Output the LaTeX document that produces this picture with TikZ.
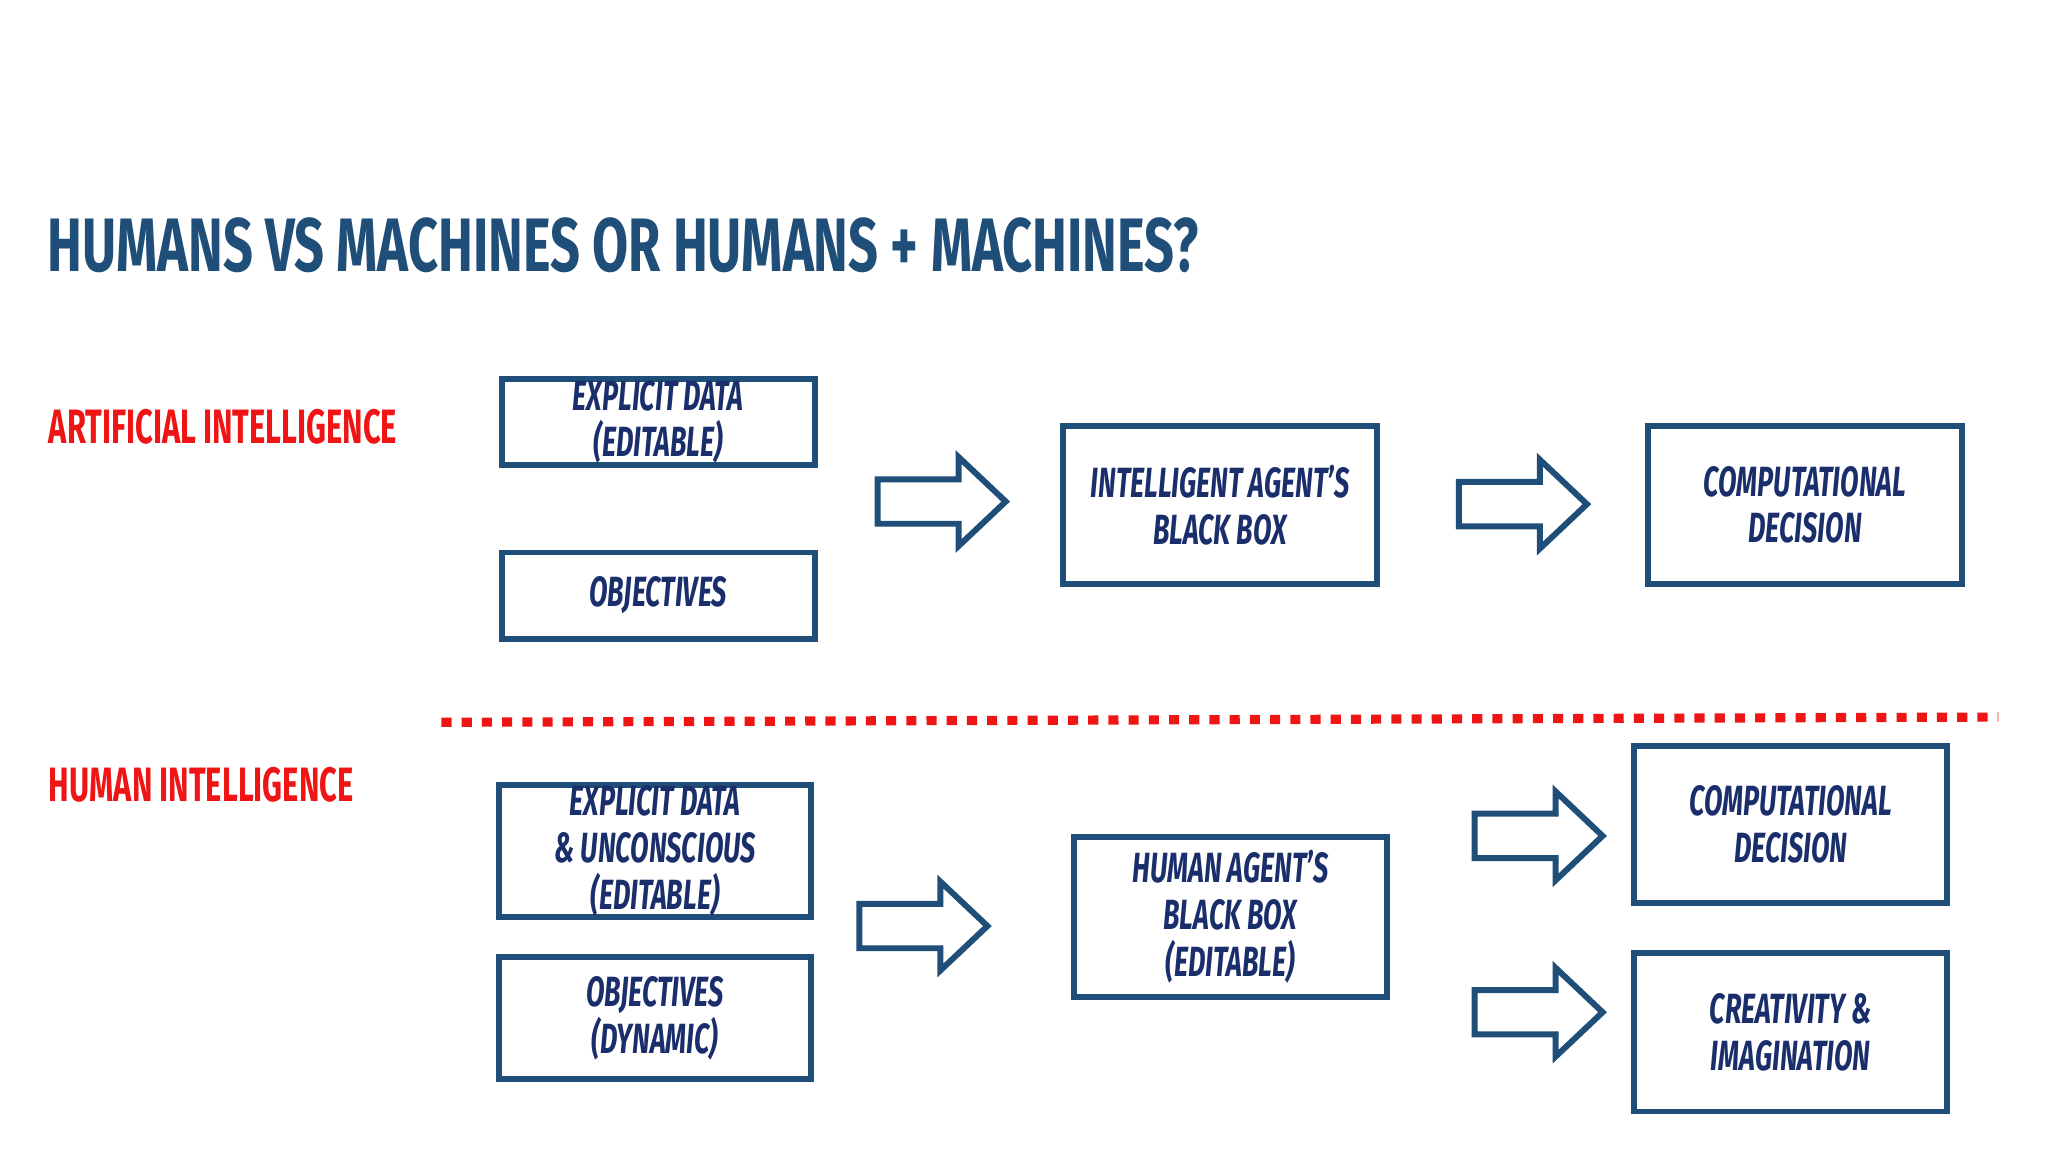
\documentclass[tikz,border=0pt]{standalone}
\usepackage{fontspec}
\setmainfont{Fira Sans}[FakeStretch=0.64,UprightFont=* Bold,ItalicFont=* Bold Italic]
\newfontfamily\ttlfont{Fira Sans Bold}[FakeStretch=0.69]
\definecolor{ttl}{HTML}{1F4E79}
\definecolor{txt}{HTML}{1A2E6B}
\definecolor{red1}{HTML}{F01515}
\begin{document}
\begin{tikzpicture}[x=0.01cm,y=-0.01cm,
  box/.style={draw=ttl,line width=1.3pt,align=center,text=txt,font=\fontsize{9.2}{10.2}\selectfont\itshape},
  lbl/.style={anchor=west,text=red1,font=\fontsize{10.5}{13}\selectfont},
  arr/.style={draw=ttl,line width=1.3pt,fill=white}]
\useasboundingbox (0,0) rectangle (1568,882);
\fill[white] (0,0) rectangle (1568,882);
\node[anchor=west,text=ttl,font=\ttlfont\fontsize{16.5}{20}\selectfont] (title) at (24,188) {HUMANS VS MACHINES OR HUMANS + MACHINES?};
\node[lbl] (ai) at (25,327) {ARTIFICIAL INTELLIGENCE};
\node[lbl] (hi) at (25,601) {HUMAN INTELLIGENCE};
\newcommand\bx[6]{\node[box,minimum width={(#4-#2-4)*0.01cm},minimum height={(#5-#3-4)*0.01cm},inner sep=0pt] (#1) at ({(#2+#4)/2},{(#3+#5)/2}) {#6};}
\newcommand\barrow[3]{\draw[arr] (#1,#3-17) -- (#2-36,#3-17) -- (#2-36,#3-34) -- (#2,#3) -- (#2-36,#3+34) -- (#2-36,#3+17) -- (#1,#3+17) -- cycle;}
\bx{ed1}{382}{288}{626}{358}{EXPLICIT DATA\\(EDITABLE)}
\bx{ob1}{382}{421}{626}{491}{OBJECTIVES}
\bx{ia}{812}{324}{1056}{449}{INTELLIGENT AGENT'S\\BLACK BOX}
\bx{cd1}{1260}{324}{1504}{449}{COMPUTATIONAL\\DECISION}
\bx{ed2}{380}{599}{623}{704}{EXPLICIT DATA\\\& UNCONSCIOUS\\(EDITABLE)}
\bx{ob2}{380}{731}{623}{828}{OBJECTIVES\\(DYNAMIC)}
\bx{ha}{820}{639}{1064}{765}{HUMAN AGENT'S\\BLACK BOX\\(EDITABLE)}
\bx{cd2}{1249}{569}{1493}{693}{COMPUTATIONAL\\DECISION}
\bx{cr}{1249}{728}{1493}{853}{CREATIVITY \&\\IMAGINATION}
\barrow{672}{770}{384}
\barrow{1117}{1215}{386}
\barrow{658}{756}{709}
\barrow{1129}{1227}{640}
\barrow{1129}{1227}{775}
\coordinate (d1) at (338,553);
\coordinate (d2) at (1530,549);
\draw[red1,line width=2pt,dash pattern=on 2.2pt off 2.2pt] (d1) -- (d2);
\end{tikzpicture}
\end{document}
